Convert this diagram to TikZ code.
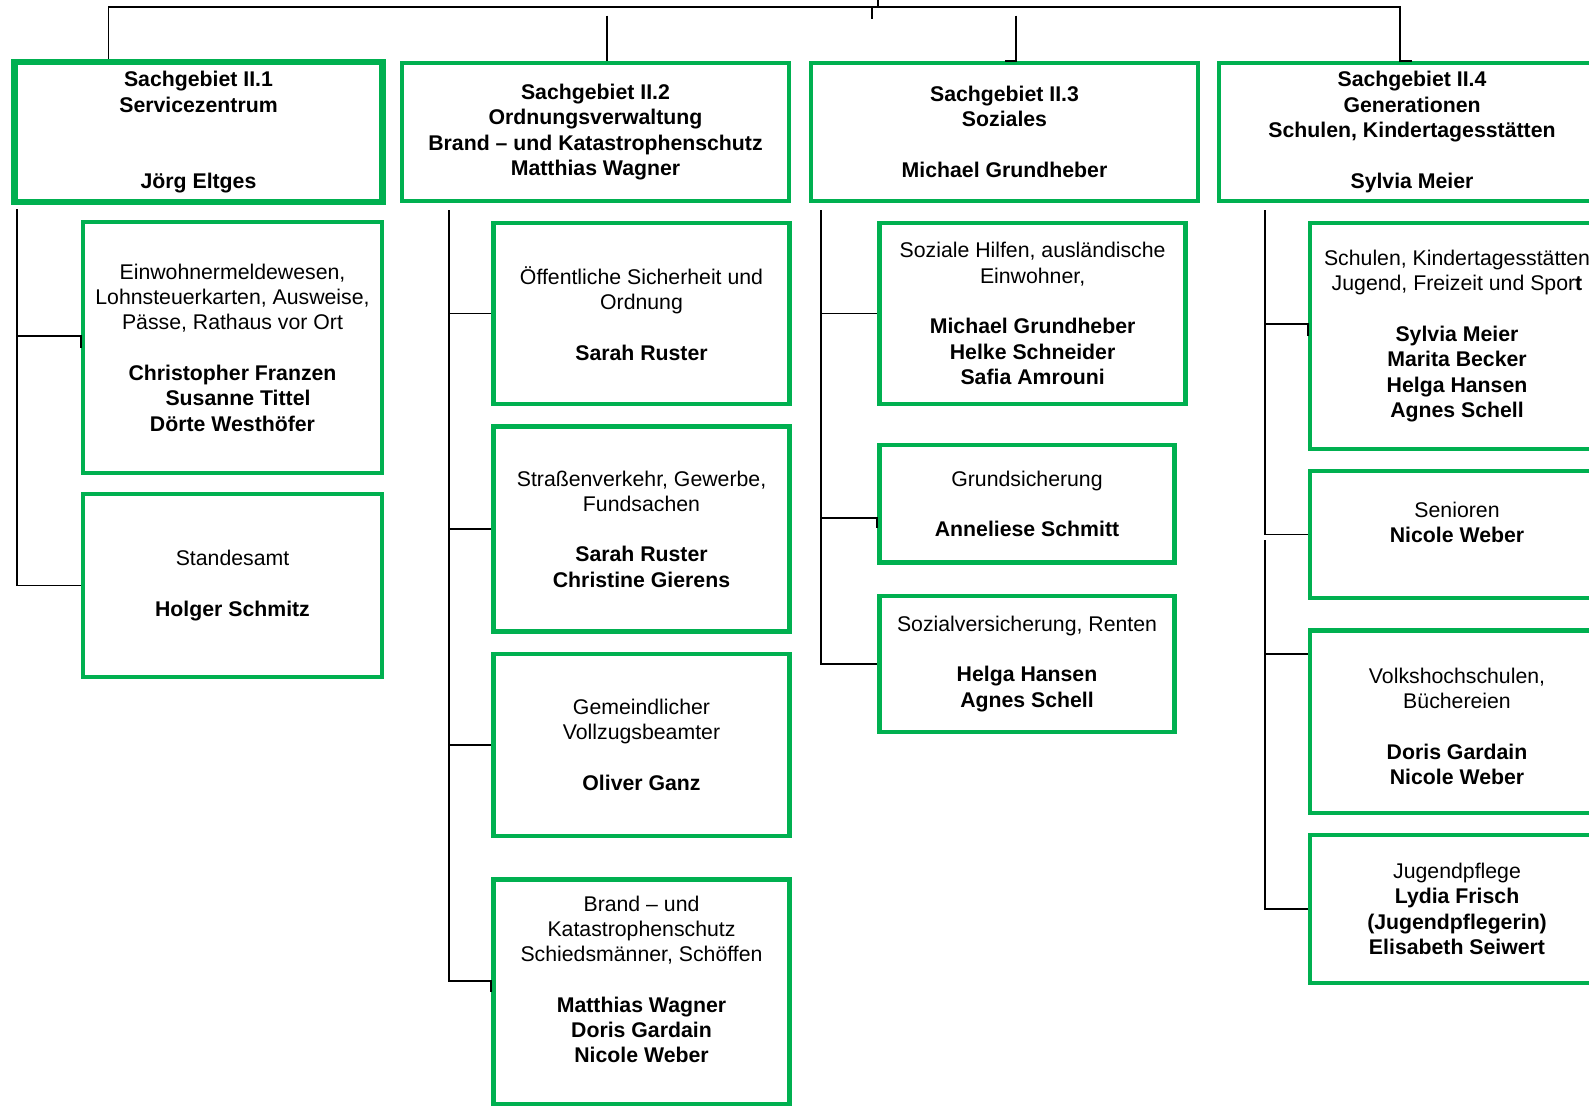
\documentclass[tikz,border=0pt]{standalone}
\usepackage{fontspec}
\setmainfont{Liberation Sans}
\definecolor{sggreen}{HTML}{00B050}
\tikzset{
  sgbox/.style={draw=sggreen, line width=1.3pt, align=center, inner sep=1pt,
    font=\fontsize{6.05pt}{7.2pt}\selectfont},
  headbox/.style={sgbox, font=\fontsize{6.05pt}{7.2pt}\selectfont\bfseries},
  link/.style={black, line width=0.5pt}
}
\begin{document}
\begin{tikzpicture}
    \useasboundingbox (0,0) rectangle (15.89,-11.05);

    % Sachgebiete
    \node[headbox, line width=1.8pt, minimum width=3.68cm, minimum height=1.40cm] (hd1) at (1.985,-1.32)
        {Sachgebiet II.1\\Servicezentrum\\[14.4pt]Jörg Eltges};
    \node[headbox, minimum width=3.87cm, minimum height=1.38cm] (hd2) at (5.955,-1.32)
        {Sachgebiet II.2\\Ordnungsverwaltung\\Brand – und Katastrophenschutz\\Matthias Wagner};
    \node[headbox, minimum width=3.87cm, minimum height=1.38cm] (hd3) at (10.045,-1.32)
        {Sachgebiet II.3\\Soziales\\[7.2pt]Michael Grundheber};
    \node[headbox, minimum width=3.86cm, minimum height=1.38cm] (hd4) at (14.12,-1.32)
        {Sachgebiet II.4\\Generationen\\Schulen, Kindertagesstätten\\[7.2pt]Sylvia Meier};

    % II.1
    \node[sgbox, minimum width=2.99cm, minimum height=2.51cm] (a1) at (2.325,-3.475)
        {Einwohnermeldewesen,\\Lohnsteuerkarten, Ausweise,\\Pässe, Rathaus vor Ort\\[7.2pt]
         \textbf{Christopher Franzen}\\\hspace*{1.1mm}\textbf{Susanne Tittel}\\\textbf{Dörte Westhöfer}};
    \node[sgbox, minimum width=2.99cm, minimum height=1.83cm] (a2) at (2.325,-5.855)
        {Standesamt\\[7.2pt]\textbf{Holger Schmitz}};

    % II.2
    \node[sgbox, minimum width=2.96cm, minimum height=1.81cm] (b1) at (6.415,-3.135)
        {Öffentliche Sicherheit und\\Ordnung\\[7.2pt]\textbf{Sarah Ruster}};
    \node[sgbox, minimum width=2.96cm, minimum height=2.05cm] (b2) at (6.415,-5.29)
        {Straßenverkehr, Gewerbe,\\Fundsachen\\[7.2pt]\textbf{Sarah Ruster}\\\textbf{Christine Gierens}};
    \node[sgbox, minimum width=2.96cm, minimum height=1.82cm] (b3) at (6.415,-7.45)
        {Gemeindlicher\\Vollzugsbeamter\\[7.2pt]\textbf{Oliver Ganz}};
    \node[sgbox, minimum width=2.96cm, minimum height=2.25cm] (b4) at (6.415,-9.92)
        {Brand – und\\Katastrophenschutz\\Schiedsmänner, Schöffen\\[7.2pt]
         \textbf{Matthias Wagner}\\\textbf{Doris Gardain}\\\textbf{Nicole Weber}\\\mbox{}};

    % II.3
    \node[sgbox, minimum width=3.06cm, minimum height=1.81cm] (c1) at (10.326,-3.135)
        {Soziale Hilfen, ausländische\\Einwohner,\\[7.2pt]
         \textbf{Michael Grundheber}\\\textbf{Helke Schneider}\\\textbf{Safia Amrouni}};
    \node[sgbox, minimum width=2.95cm, minimum height=1.175cm] (c2) at (10.27,-5.037)
        {Grundsicherung\\[7.2pt]\textbf{Anneliese Schmitt}};
    \node[sgbox, minimum width=2.95cm, minimum height=1.36cm] (c3) at (10.27,-6.638)
        {Sozialversicherung, Renten\\[7.2pt]\textbf{Helga Hansen}\\\textbf{Agnes Schell}};

    % II.4
    \node[sgbox, minimum width=2.94cm, minimum height=2.26cm] (d1) at (14.57,-3.36)
        {Schulen, Kindertagesstätten\\Jugend, Freizeit und Spor\textbf{t}\\[7.2pt]
         \textbf{Sylvia Meier}\\\textbf{Marita Becker}\\\textbf{Helga Hansen}\\\textbf{Agnes Schell}};
    \node[sgbox, minimum width=2.94cm, minimum height=1.27cm] (d2) at (14.57,-5.346)
        {Senioren\\\textbf{Nicole Weber}\\\mbox{}};
    \node[sgbox, minimum width=2.94cm, minimum height=1.825cm] (d3) at (14.57,-7.216)
        {\mbox{}\\Volkshochschulen,\\Büchereien\\[7.2pt]\textbf{Doris Gardain}\\\textbf{Nicole Weber}};
    \node[sgbox, minimum width=2.94cm, minimum height=1.48cm] (d4) at (14.57,-9.09)
        {Jugendpflege\\\textbf{Lydia Frisch}\\\textbf{(Jugendpflegerin)}\\\textbf{Elisabeth Seiwert}};

    % Connectors at the top
    \coordinate (bus) at (8.78,-0.07);
    \draw[link] (bus) -- ++(0,0.2);
    \draw[link] ([xshift=-0.6mm]bus) -- ++(0,-1.2mm);
    \draw[link] ([xshift=-9mm]hd1.north) |- (bus) -| ([xshift=-1.2mm]hd4.north) -- (hd4.north);
    \draw[link] ([xshift=1.15mm,yshift=4.5mm]hd2.north) -- ([xshift=1.15mm]hd2.north);
    \draw[link] ([xshift=1.15mm,yshift=4.5mm]hd3.north) -- ([xshift=1.15mm]hd3.north) -- (hd3.north);

    % Connectors in the columns
    \coordinate (t1) at (0.172,-2.09);
    \coordinate (t2) at (4.49,-2.10);
    \coordinate (t3) at (8.21,-2.10);
    \coordinate (t4) at (12.647,-2.10);
    \coordinate (t4b) at (12.647,-5.40);

    \draw[link] (t1) |- ([yshift=1.15mm]a1.west) -- (a1.west);
    \draw[link] (t1) |- (a2.west);

    \foreach \n in {b1,b2,b3}
        \draw[link] (t2) |- (\n.west);
    \draw[link] (t2) |- ([yshift=1.1mm]b4.west) -- (b4.west);

    \draw[link] (t3) |- (c1.west);
    \draw[link] (t3) |- ([yshift=-1.45mm]c2.west) -- ++(0,-1mm);
    \draw[link] (t3) |- (c3.west);

    \draw[link] (t4) |- ([yshift=1.2mm]d1.west) -- (d1.west);
    \draw[link] (t4) |- (d2.west);
    \draw[link] (t4b) |- ([yshift=6.8mm]d3.west);
    \draw[link] (t4b) |- (d4.west);
\end{tikzpicture}
\end{document}
